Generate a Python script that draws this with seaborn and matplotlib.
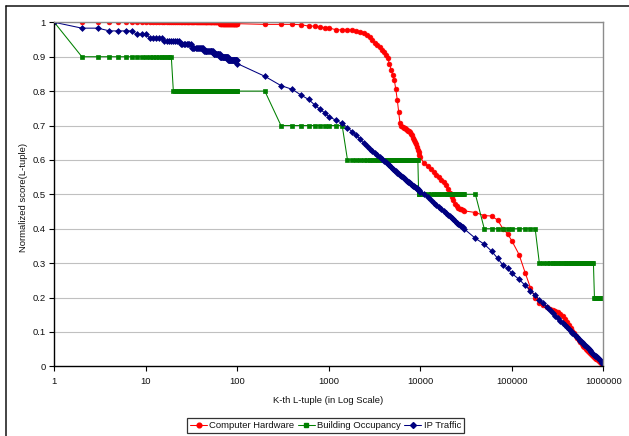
import matplotlib
matplotlib.use("Agg")
import matplotlib.pyplot as plt
import pandas as pd
import seaborn as sns
from matplotlib.lines import Line2D
from matplotlib.ticker import FixedLocator, FixedFormatter, NullLocator

sns.set_theme(style="white")
plt.rcParams["font.family"] = ["Liberation Sans", "DejaVu Sans"]

# Rank positions (K) at which every curve is sampled
k_top = list(range(1, 101))
k_hundreds = list(range(200, 1001, 100))
k_thousands = list(range(1200, 10001, 200))
k_tens_thousands = list(range(11000, 30001, 1000))
k_coarse = list(range(40000, 100001, 10000))
k_tail = list(range(120000, 1000001, 20000))
k_rank = k_top + k_hundreds + k_thousands + k_tens_thousands + k_coarse + k_tail

# Computer Hardware
hw_top = [1.0] * 64 + [0.996] * 36
hw_hundreds = [0.994, 0.994, 0.994, 0.993, 0.989, 0.989, 0.986, 0.984, 0.984]
hw_thousands = [0.978, 0.978, 0.978, 0.977, 0.975, 0.972, 0.968, 0.963, 0.956, 0.948,
                0.940, 0.933, 0.927, 0.920, 0.914, 0.906, 0.895, 0.880, 0.862, 0.846,
                0.832, 0.805, 0.775, 0.740, 0.706, 0.700, 0.697, 0.694, 0.692, 0.690,
                0.687, 0.685, 0.683, 0.680, 0.676, 0.671, 0.665, 0.659, 0.653, 0.646,
                0.638, 0.630, 0.623, 0.615, 0.607]
hw_tens_thousands = [0.590, 0.583, 0.575, 0.566, 0.557, 0.550, 0.543, 0.535, 0.527, 0.515,
                     0.503, 0.493, 0.482, 0.471, 0.465, 0.461, 0.458, 0.456, 0.454, 0.452]
hw_coarse = [0.447, 0.438, 0.437, 0.425, 0.400, 0.385, 0.365]
hw_tail = [0.325, 0.272, 0.228, 0.200, 0.185, 0.177, 0.172, 0.168, 0.165, 0.162,
           0.158, 0.153, 0.146, 0.138, 0.130, 0.121, 0.112, 0.104, 0.096, 0.089,
           0.082, 0.076, 0.070, 0.064, 0.059, 0.055, 0.051, 0.047, 0.044, 0.041,
           0.038, 0.035, 0.032, 0.030, 0.027, 0.025, 0.022, 0.020, 0.018, 0.016,
           0.013, 0.011, 0.009, 0.006, 0.004]
hardware = hw_top + hw_hundreds + hw_thousands + hw_tens_thousands + hw_coarse + hw_tail

# Building Occupancy
bo_top = [1.0] + [0.9] * 18 + [0.8] * 81
bo_hundreds = [0.8] + [0.7] * 8
bo_thousands = [0.7] * 2 + [0.6] * 40 + [0.5] * 3
bo_tens_thousands = [0.5] * 20
bo_coarse = [0.5] + [0.4] * 6
bo_tail = [0.4] * 4 + [0.3] * 30 + [0.2] * 11
occupancy = bo_top + bo_hundreds + bo_thousands + bo_tens_thousands + bo_coarse + bo_tail

# IP Traffic
ip_top = ([1.0] + [0.983] * 2 + [0.975] * 4 + [0.965] * 3 + [0.955] * 5 + [0.946] * 8
          + [0.936] * 8 + [0.926] * 11 + [0.917] * 12 + [0.909] * 10 + [0.900] * 15
          + [0.890] * 20 + [0.880])
ip_hundreds = [0.843, 0.816, 0.805, 0.788, 0.776, 0.760, 0.747, 0.737, 0.726]
ip_thousands = [0.715, 0.706, 0.694, 0.682, 0.671, 0.661, 0.648, 0.640, 0.632, 0.625,
                0.619, 0.613, 0.607, 0.602, 0.598, 0.594, 0.589, 0.584, 0.579, 0.575,
                0.571, 0.567, 0.563, 0.560, 0.557, 0.554, 0.551, 0.548, 0.545, 0.543,
                0.540, 0.537, 0.535, 0.532, 0.530, 0.528, 0.525, 0.523, 0.521, 0.519,
                0.517, 0.515, 0.513, 0.510, 0.507]
ip_tens_thousands = [0.500, 0.491, 0.484, 0.476, 0.469, 0.463, 0.457, 0.451, 0.446, 0.441,
                     0.436, 0.431, 0.427, 0.423, 0.418, 0.414, 0.411, 0.407, 0.404, 0.400]
ip_coarse = [0.372, 0.355, 0.335, 0.314, 0.294, 0.285, 0.270]
ip_tail = [0.253, 0.235, 0.220, 0.206, 0.194, 0.183, 0.173, 0.164, 0.155, 0.147,
           0.140, 0.133, 0.126, 0.120, 0.114, 0.108, 0.103, 0.098, 0.093, 0.088,
           0.084, 0.079, 0.075, 0.071, 0.067, 0.063, 0.060, 0.056, 0.053, 0.050,
           0.046, 0.043, 0.040, 0.037, 0.034, 0.031, 0.029, 0.026, 0.023, 0.021,
           0.018, 0.016, 0.013, 0.011, 0.008]
traffic = ip_top + ip_hundreds + ip_thousands + ip_tens_thousands + ip_coarse + ip_tail

series_names = ["Computer Hardware", "Building Occupancy", "IP Traffic"]
series_values = [hardware, occupancy, traffic]
series_colors = ["#FF0000", "#008000", "#000080"]
series_markers = ["o", "s", "D"]
series_msize = [3.4, 3.2, 3.0]

x_ticks = [1, 10, 100, 1000, 10000, 100000, 1000000]
x_tick_labels = ["1", "10", "100", "1000", "10000", "100000", "1000000"]
y_ticks = [0, 0.1, 0.2, 0.3, 0.4, 0.5, 0.6, 0.7, 0.8, 0.9, 1.0]
y_tick_labels = ["0", "0.1", "0.2", "0.3", "0.4", "0.5", "0.6", "0.7", "0.8", "0.9", "1"]

frames = []
for name, vals in zip(series_names, series_values):
    frames.append(pd.DataFrame({"K": k_rank, "score": vals, "series": name}))
data = pd.concat(frames, ignore_index=True)

W, H = 629, 436
fig = plt.figure(figsize=(W / 100, H / 100), dpi=100)
fig.patch.set_facecolor("white")
x0, x1, y_top, y_bot = 54.3, 603.3, 22.3, 366.3
ax = fig.add_axes([x0 / W, 1 - y_bot / H, (x1 - x0) / W, (y_bot - y_top) / H])
ax.set_facecolor("white")

for y in y_ticks[1:]:
    ax.axhline(y, color="#C0C0C0", lw=0.8, zorder=0)

for name, color, mk, ms in zip(series_names, series_colors, series_markers, series_msize):
    sub = data[data["series"] == name]
    sns.lineplot(data=sub, x="K", y="score", ax=ax, color=color, marker=mk,
                 markersize=ms, markeredgecolor=color, markerfacecolor=color,
                 markeredgewidth=0.5, linewidth=0.75, estimator=None, sort=False,
                 legend=False, zorder=3)

ax.set_xscale("log")
ax.set_xlim(1, 1000000)
ax.set_ylim(0, 1)
ax.xaxis.set_major_locator(FixedLocator(x_ticks))
ax.xaxis.set_major_formatter(FixedFormatter(x_tick_labels))
ax.xaxis.set_minor_locator(NullLocator())
ax.yaxis.set_major_locator(FixedLocator(y_ticks))
ax.yaxis.set_major_formatter(FixedFormatter(y_tick_labels))
ax.tick_params(axis="both", which="major", direction="out", length=3.5, width=0.8,
               color="black", labelsize=6.8, labelcolor="#111111", pad=2.5,
               bottom=True, left=True)
ax.tick_params(axis="x", pad=4)
ax.set_xlabel("")
ax.set_ylabel("")

for side in ("left", "bottom"):
    ax.spines[side].set_color("black")
    ax.spines[side].set_linewidth(1.0)
for side in ("top", "right"):
    ax.spines[side].set_color("#8C8C8C")
    ax.spines[side].set_linewidth(1.0)
for s in ax.spines.values():
    s.set_zorder(4)

fig.text(328.5 / W, 1 - 400 / H, "K-th L-tuple (in Log Scale)", ha="center", va="center",
         fontsize=6.8, color="#111111")
fig.text(23.5 / W, 1 - 197 / H, "Normalized score(L-tuple)", ha="center", va="center",
         rotation=90, fontsize=6.8, color="#111111")

# chart frame
fig.add_artist(Line2D([6.5 / W, 6.5 / W], [0, 1 - 6.5 / H], transform=fig.transFigure,
                      color="#111111", lw=1.1))
fig.add_artist(Line2D([6.5 / W, 1], [1 - 6.5 / H, 1 - 6.5 / H], transform=fig.transFigure,
                      color="#111111", lw=1.1))

handles = [Line2D([], [], color=c, marker=m, markersize=s, markeredgecolor=c,
                  markerfacecolor=c, lw=0.75)
           for c, m, s in zip(series_colors, series_markers, series_msize)]
leg = fig.legend(handles, series_names, loc="center", bbox_to_anchor=(325.5 / W, 1 - 425.5 / H),
                 ncol=3, fontsize=6.8, frameon=True, fancybox=False, shadow=False,
                 handlelength=1.8, handletextpad=0.25, columnspacing=0.35,
                 borderpad=0.3, borderaxespad=0)
leg.get_frame().set_edgecolor("black")
leg.get_frame().set_linewidth(0.9)
for t in leg.get_texts():
    t.set_color("#111111")

fig.savefig("out.png", dpi=100, facecolor="white")
